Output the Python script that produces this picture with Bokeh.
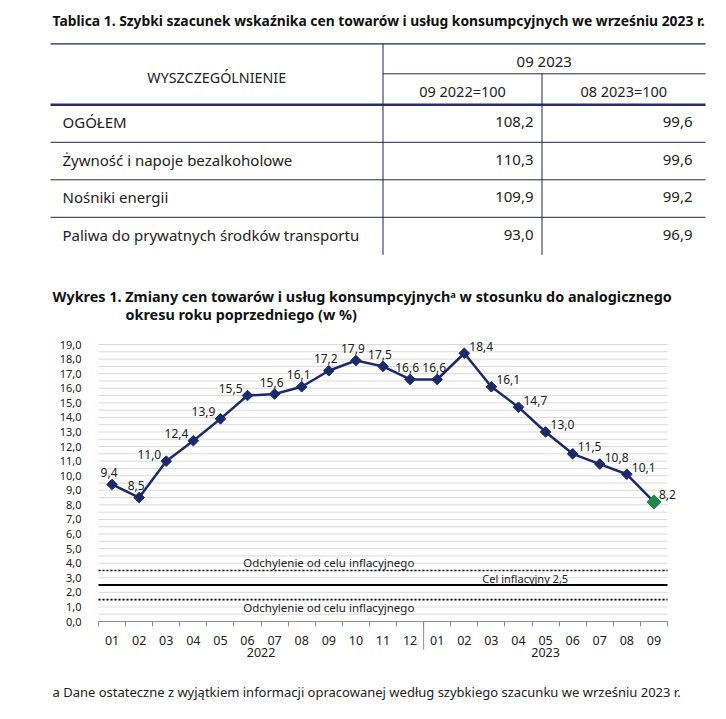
import numpy as np
from bokeh.plotting import figure
from bokeh.models import Range1d, FixedTicker, LabelSet, Label, ColumnDataSource
from bokeh.core.properties import value
from bokeh.embed import file_html
from bokeh.resources import INLINE

# ---------------- data ----------------
table_title = "Tablica 1. Szybki szacunek wskaźnika cen towarów i usług konsumpcyjnych we wrześniu 2023 r."
header_col = "WYSZCZEGÓLNIENIE"
header_group = "09 2023"
header_sub = ["09 2022=100", "08 2023=100"]
row_labels = ["OGÓŁEM", "Żywność i napoje bezalkoholowe", "Nośniki energii",
              "Paliwa do prywatnych środków transportu"]
col_yoy = [108.2, 110.3, 109.9, 93.0]
col_mom = [99.6, 99.6, 99.2, 96.9]

chart_title_1 = "Wykres 1. Zmiany cen towarów i usług konsumpcyjnychᵃ w stosunku do analogicznego"
chart_title_2 = "okresu roku poprzedniego (w %)"
months = ["01", "02", "03", "04", "05", "06", "07", "08", "09", "10", "11", "12",
          "01", "02", "03", "04", "05", "06", "07", "08", "09"]
years = ["2022", "2023"]
year_centers = [5.5, 16]
cpi = [9.4, 8.5, 11.0, 12.4, 13.9, 15.5, 15.6, 16.1, 17.2, 17.9, 17.5, 16.6,
       16.6, 18.4, 16.1, 14.7, 13.0, 11.5, 10.8, 10.1, 8.2]
y_max = 19
target = 2.5
tolerance = 1.0
dev_label = "Odchylenie od celu inflacyjnego"
target_label = "Cel inflacyjny 2,5"
footnote = "a Dane ostateczne z wyjątkiem informacji opracowanej według szybkiego szacunku we wrześniu 2023 r."

FONT = "Noto Sans"
NAVY = "#1b2a6b"
GREEN = "#1f8a48"
TXT = "#222222"
LINE = "#22244f"


def fmt(v):
    return f"{v:.1f}".replace(".", ",")


# ---------------- canvas / scales ----------------
FW, FH = 720, 712
n_pts = len(cpi)
# chart area in canvas pixels
CL, CR, CT, CB = 98, 667, 344, 621
kx = (CR - CL) / n_pts
ky = (CB - CT) / y_max
x_start = -0.5 - CL / kx
x_end = x_start + FW / kx
y_end = y_max + CT / ky
y_start = y_end - FH / ky


def X(px):
    return x_start + px / kx


def Y(py):
    return y_end - py / ky


p = figure(width=FW, height=FH, x_range=Range1d(x_start, x_end), y_range=Range1d(y_start, y_end),
           output_backend="svg", toolbar_location=None, min_border=0)
p.outline_line_color = None
p.grid.visible = False

# ---------------- table ----------------
L, R, C1, C2 = 50, 705, 382.5, 541.5
TOP, SUB, HB = 43.3, 73.3, 104.3
ROW_H = 37.5
n = len(row_labels)
row_tops = HB + ROW_H * np.arange(n)
row_mid = row_tops + 17.5
bottom = HB + ROW_H * n


def seg(x0, y0, x1, y1, **kw):
    p.segment(x0=[X(v) for v in x0], y0=[Y(v) for v in y0],
              x1=[X(v) for v in x1], y1=[Y(v) for v in y1], **kw)


seg([L], [TOP], [R], [TOP], line_color=LINE, line_width=1.2)
seg([C1], [SUB], [R], [SUB], line_color=LINE, line_width=1)
seg([L], [HB], [R], [HB], line_color="#2b2e63", line_width=2.5)
seg([L] * (n - 1), list(row_tops[1:]), [R] * (n - 1), list(row_tops[1:]),
    line_color=LINE, line_width=1)
seg([C1, C2], [TOP, SUB], [C1, C2], [bottom, bottom], line_color=LINE, line_width=1)


def txt(xs, ys, texts, size, align="left", bold=False, color=TXT):
    p.text(x=[X(v) for v in xs], y=[Y(v) for v in ys], text=texts, text_font=value(FONT),
           text_font_size=size, text_font_style="bold" if bold else "normal",
           text_baseline="middle", text_align=align, text_color=color)


txt([52], [20], [table_title], "13.85px", bold=True, color="#111111")
txt([(L + C1) / 2], [77], [header_col], "14.3px", align="center")
txt([(C1 + R) / 2], [60], [header_group], "15px", align="center")
txt([(C1 + C2) / 2, (C2 + R) / 2], [90, 90], header_sub, "14.5px", align="center")
txt([L + 12] * n, list(row_mid), row_labels, "15px")
txt([C2 - 8.5] * n, list(row_mid), [fmt(v) for v in col_yoy], "15px", align="right")
txt([R - 13] * n, list(row_mid), [fmt(v) for v in col_mom], "15px", align="right")

txt([52], [296], [chart_title_1], "14.4px", bold=True, color="#111111")
txt([125], [314], [chart_title_2], "14.4px", bold=True, color="#111111")

# ---------------- chart ----------------
x = list(range(n_pts))
x_lo, x_hi = -0.5, n_pts - 0.5

grid_vals = list(np.arange(0.5, y_max + 0.01, 0.5))
p.segment(x0=[x_lo] * len(grid_vals), y0=grid_vals, x1=[x_hi] * len(grid_vals), y1=grid_vals,
          line_color="#d9d9d9", line_width=1)

yt = list(range(0, y_max + 1))
p.yaxis.fixed_location = x_lo
p.yaxis.bounds = (0, y_max)
p.yaxis.ticker = FixedTicker(ticks=yt)
p.yaxis.major_label_overrides = {t: f"{t},0" for t in yt}
p.yaxis.axis_line_color = None
p.yaxis.major_tick_line_color = None
p.yaxis.minor_tick_line_color = None
p.yaxis.major_label_standoff = 11
p.yaxis.major_label_text_font = FONT
p.yaxis.major_label_text_font_size = "11px"
p.yaxis.major_label_text_color = TXT

bounds = [i - 0.5 for i in range(n_pts + 1)]
p.xaxis.fixed_location = 0
p.xaxis.bounds = (x_lo, x_hi)
p.xaxis.ticker = FixedTicker(ticks=x, minor_ticks=bounds)
p.xaxis.major_label_overrides = {i: m for i, m in enumerate(months)}
p.xaxis.major_tick_line_color = None
p.xaxis.major_tick_out = 0
p.xaxis.minor_tick_out = 5
p.xaxis.minor_tick_in = 0
p.xaxis.minor_tick_line_color = "#8c8c8c"
p.xaxis.axis_line_color = "#8c8c8c"
p.xaxis.major_label_standoff = 9
p.xaxis.major_label_text_font = FONT
p.xaxis.major_label_text_font_size = "12.5px"
p.xaxis.major_label_text_color = TXT

# year separator and labels
p.segment(x0=[11.5], y0=[0], x1=[11.5], y1=[-28 / ky], line_color="#8c8c8c", line_width=1)
for xc, yr in zip(year_centers, years):
    p.add_layout(Label(x=xc, y=0, y_offset=-31, text=yr, text_font=FONT, text_font_size="12.5px",
                       text_align="center", text_baseline="middle", text_color=TXT))

# inflation target lines
for loc, dash, lw in [(target + tolerance, "2 2", 1.6), (target, "solid", 2),
                      (target - tolerance, "2 2", 1.6)]:
    p.segment(x0=[x_lo], y0=[loc], x1=[x_hi], y1=[loc], line_color="black",
              line_width=lw, line_dash=dash)
p.add_layout(Label(x=8, y=target + tolerance, y_offset=8, text=dev_label, text_font=FONT,
                   text_font_size="11.5px", text_align="center", text_baseline="middle",
                   text_color=TXT))
p.add_layout(Label(x=8, y=target - tolerance, y_offset=-8, text=dev_label, text_font=FONT,
                   text_font_size="11.5px", text_align="center", text_baseline="middle",
                   text_color=TXT))
p.add_layout(Label(x=15.25, y=target, y_offset=7, text=target_label, text_font=FONT,
                   text_font_size="11px", text_align="center", text_baseline="middle",
                   text_color=TXT))

# series
p.line(x, cpi, line_color=NAVY, line_width=2.5)
p.scatter(x[:-1], cpi[:-1], marker="square", angle=np.pi / 4, size=7.5, color=NAVY)
p.scatter(x[-1:], cpi[-1:], marker="square", angle=np.pi / 4, size=10, color=GREEN)

labels = [fmt(v) for v in cpi]
peak = int(np.argmax(cpi))
groups = {
    "above": ([0, 1] + list(range(6, peak)), "center", -3, 12),
    "left": (list(range(2, 6)), "right", -5, 7),
    "right": (list(range(peak, n_pts)), "left", 5, 7),
}
for name, (idx, align, xo, yo) in groups.items():
    src = ColumnDataSource(dict(x=[x[i] for i in idx], y=[cpi[i] for i in idx],
                                t=[labels[i] for i in idx]))
    p.add_layout(LabelSet(x="x", y="y", text="t", source=src, x_offset=xo, y_offset=yo,
                          text_align=align, text_baseline="middle", text_font=value(FONT),
                          text_font_size="12px", text_color=TXT))

txt([52], [691], [footnote], "13px")

open("out.html", "w").write(file_html(p, INLINE))
